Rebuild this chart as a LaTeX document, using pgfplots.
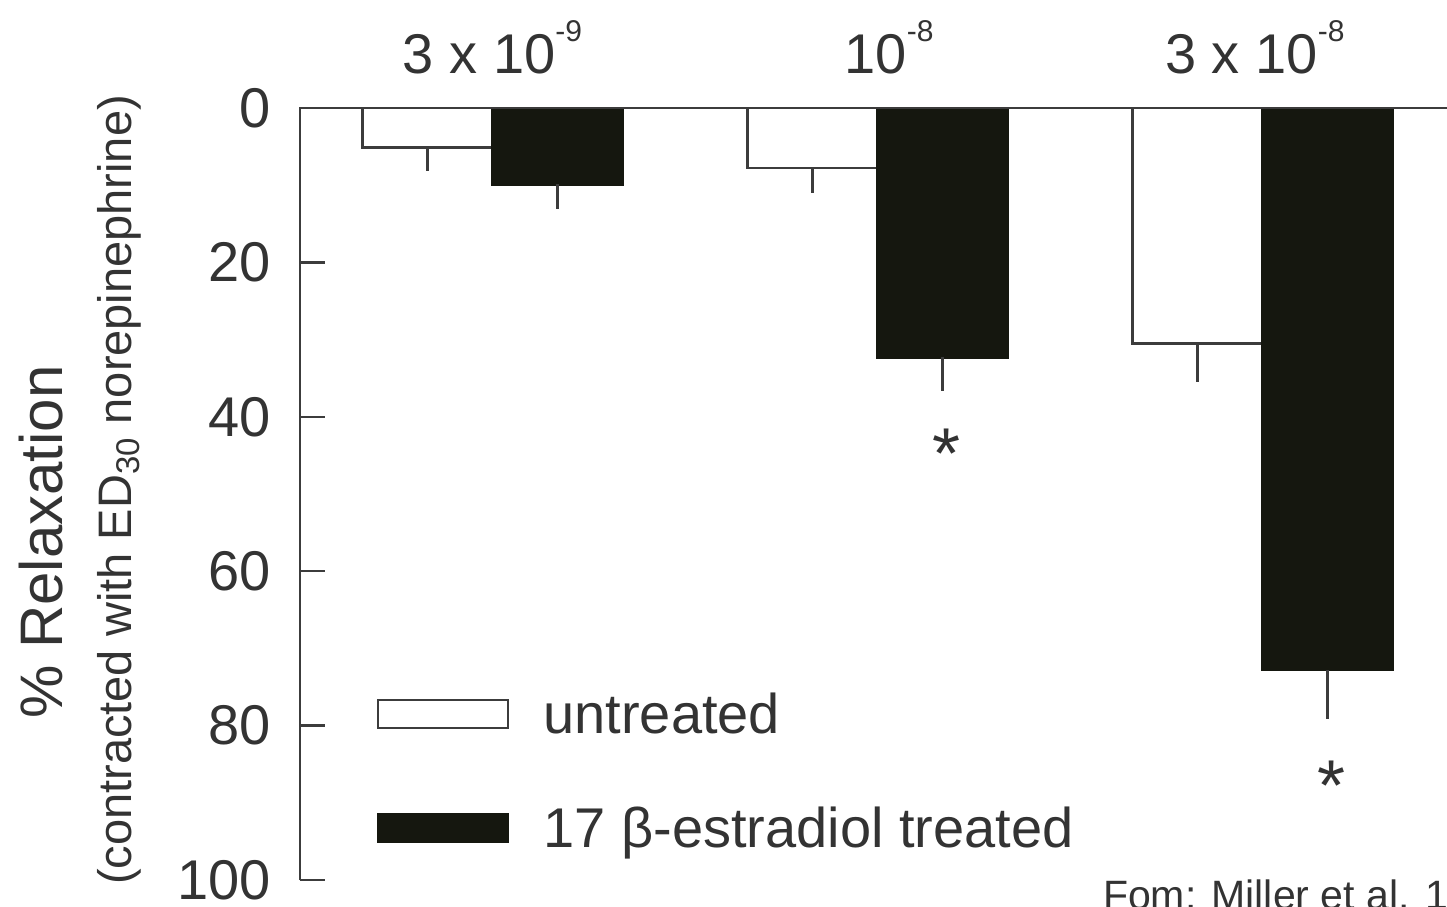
\documentclass[border=0pt]{standalone}
\usepackage{fontspec}
\setmainfont{Liberation Sans}
\usepackage{pgfplots}
\pgfplotsset{compat=1.18}
\definecolor{textgray}{HTML}{333333}
\definecolor{axisgray}{HTML}{3C3C3C}
\definecolor{barblack}{HTML}{15170F}
\begin{document}
\begin{tikzpicture}
\useasboundingbox (-150pt,-13pt) rectangle (573.5pt,440pt);
\clip (-150pt,-13pt) rectangle (573.5pt,440pt);
\begin{axis}[
  scale only axis, width=573.5pt, height=386pt,
  xmin=0.5, xmax=3.479, ymin=0, ymax=100,
  y dir=reverse,
  axis line style={draw=none},
  xtick=\empty,
  ytick={0,20,40,60,80,100},
  ytick pos=left,
  tick align=inside,
  major tick length=12.5pt,
  ytick style={line width=1.2pt, draw=axisgray},
  /pgf/number format/assume math mode=true,
  yticklabel style={font=\fontsize{28}{28}\selectfont, text=textgray, xshift=-11pt},
  clip=false,
  legend cell align=left,
  legend style={at={(axis cs:0.7,75.9)}, anchor=north west, draw=none, fill=none,
    inner sep=0pt, outer sep=0pt, row sep=31pt, column sep=17pt,
    nodes={inner sep=0pt, text height=20pt, text depth=6pt, text=textgray,
      font=\fontsize{28}{28}\selectfont}},
]
% untreated: bars centred 0.1688 left of each group
\addplot[ybar, bar width=0.3377, bar shift=0pt, fill=white, draw=axisgray, line width=1.2pt,
  error bars/.cd, y dir=plus, y explicit, error mark=none,
  error bar style={line width=1.2pt, draw=axisgray}]
  coordinates {(0.8312,5.1) +- (0,3.0) (1.8312,7.8) +- (0,3.2) (2.8312,30.5) +- (0,5.0)};
\addlegendentry{untreated}
% 17 beta-estradiol treated: bars centred 0.1688 right of each group
\addplot[ybar, bar width=0.3377, bar shift=0pt, fill=barblack, draw=barblack, line width=1.2pt,
  error bars/.cd, y dir=plus, y explicit, error mark=none,
  error bar style={line width=1.2pt, draw=axisgray}]
  coordinates {(1.1688,9.9) +- (0,3.2) (2.1688,32.3) +- (0,4.3) (3.1688,72.8) +- (0,6.3)};
\addlegendentry{17 β-estradiol treated}
\pgfplotsset{legend image code/.code={\draw[#1] (0pt,-4pt) rectangle (65pt,10pt);}}
\draw[axisgray, line width=1.3pt] (axis cs:0.5,100) -- (axis cs:0.5,0) -- (axis cs:3.6,0);
\node[anchor=base, text=textgray, font=\fontsize{28}{28}\selectfont, yshift=17.5pt] at (axis cs:1,0)
  {3 x 10\raisebox{16pt}{\fontsize{15}{15}\selectfont -9}};
\node[anchor=base, text=textgray, font=\fontsize{28}{28}\selectfont, yshift=17.5pt] at (axis cs:2.03,0)
  {10\raisebox{16pt}{\fontsize{15}{15}\selectfont -8}};
\node[anchor=base, text=textgray, font=\fontsize{28}{28}\selectfont, yshift=17.5pt] at (axis cs:2.98,0)
  {3 x 10\raisebox{16pt}{\fontsize{15}{15}\selectfont -8}};
\node[anchor=base, text=textgray, font=\fontsize{36}{36}\selectfont] at (axis cs:2.18,48.0) {*};
\node[anchor=base, text=textgray, font=\fontsize{36}{36}\selectfont] at (axis cs:3.18,91.0) {*};
\end{axis}
\node[rotate=90, anchor=base, text=textgray, font=\fontsize{30}{30}\selectfont] at (-118.5pt,169pt) {\% Relaxation};
\node[rotate=90, anchor=base, text=textgray, font=\fontsize{23.5}{23.5}\selectfont] at (-84pt,195pt)
  {(contracted with ED\textsubscript{30} norepinephrine)};
\node[anchor=base west, text=textgray, font=\fontsize{20.5}{20.5}\selectfont] at (398pt,-14.5pt) {Fom: Miller et al. 1999};
\end{tikzpicture}
\end{document}
